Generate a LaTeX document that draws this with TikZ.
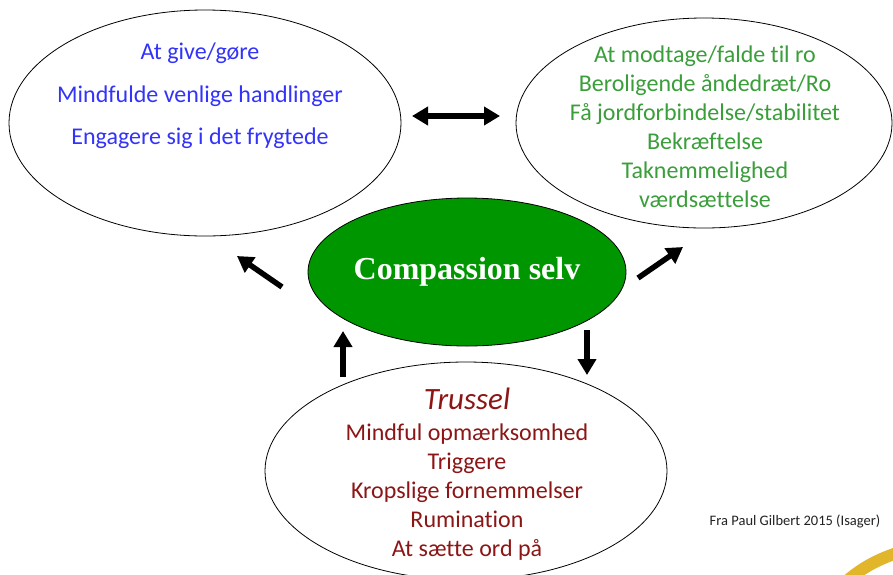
\documentclass[tikz,border=0pt]{standalone}
\usepackage{fontspec}
\setmainfont{Carlito}[RawFeature={-liga}]
\newfontfamily\timesbf{Liberation Serif}
\usetikzlibrary{shapes.geometric,arrows.meta}
\definecolor{blueT}{RGB}{51,51,250}
\definecolor{greenT}{RGB}{58,158,58}
\definecolor{redT}{RGB}{140,22,22}
\definecolor{greenF}{RGB}{0,150,0}
\definecolor{goldA}{RGB}{225,182,42}
\definecolor{footT}{RGB}{34,34,34}
\tikzset{
  oval/.style={ellipse, draw=black, line width=0.8pt, inner sep=0pt},
  fatarrow/.style={line width=5.5pt, -{Triangle[width=18pt,length=16pt]}},
  fatdouble/.style={line width=5.5pt, {Triangle[width=18pt,length=16pt]}-{Triangle[width=18pt,length=16pt]}},
  txt/.style={font=\fontsize{24}{29}\selectfont, align=center, inner sep=0pt},
}
\begin{document}
\begin{tikzpicture}[x=1pt,y=-1pt]
\useasboundingbox[fill=white] (0,0) rectangle (893,574);
% ellipses
\node[oval, minimum width=392pt, minimum height=226pt] (give) at (205,123) {};
\node[oval, minimum width=376pt, minimum height=210pt] (take) at (704,123) {};
\node[oval, fill=greenF, minimum width=318pt, minimum height=148pt] (self) at (467,272) {};
\node[oval, minimum width=402pt, minimum height=218pt] (threat) at (466,471) {};
% texts
\node[txt, text=blueT, font=\fontsize{24}{42.5}\selectfont] (givetxt) at (200,96)
  {At give/gøre\\Mindfulde venlige handlinger\\Engagere sig i det frygtede};
\node[txt, text=greenT] (taketxt) at (705,127)
  {At modtage/falde til ro\\Beroligende åndedræt/Ro\\Få jordforbindelse/stabilitet\\Bekræftelse\\Taknemmelighed\\værdsættelse};
\node[inner sep=0pt, text=white, font=\timesbf\bfseries\fontsize{32}{38}\selectfont] (selftxt) at (467,272) {Compassion selv};
\node[inner sep=0pt, text=redT, font=\itshape\fontsize{31}{36}\selectfont] (trussel) at (467,399) {Trussel};
\node[txt, text=redT] (threattxt) at (467,492)
  {Mindful opmærksomhed\\Triggere\\Kropslige fornemmelser\\Rumination\\At sætte ord på};
\node[inner sep=0pt, text=footT, font=\fontsize{14.5}{17}\selectfont] (foot) at (795,521) {Fra Paul Gilbert 2015 (Isager)};
% arrow end points
\coordinate (dA) at (412,116);
\coordinate (dB) at (500,116);
\coordinate (ulT) at (282,287);
\coordinate (ulH) at (237,256);
\coordinate (urT) at (638,278);
\coordinate (urH) at (683,247);
\coordinate (upT) at (343,377);
\coordinate (upH) at (343,331);
\coordinate (dnT) at (587,330);
\coordinate (dnH) at (587,375);
\draw[fatdouble] (dA) -- (dB);
\draw[fatarrow] (ulT) -- (ulH);
\draw[fatarrow] (urT) -- (urH);
\draw[fatarrow] (upT) -- (upH);
\draw[fatarrow] (dnT) -- (dnH);
% decorative arc
\begin{scope}
\clip (0,0) rectangle (893,574);
\coordinate (arcA) at (848,580);
\coordinate (arcB) at (900,552);
\draw[goldA, line width=12pt] (arcA) .. controls (862,568) and (878,559) .. (arcB);
\end{scope}
\end{tikzpicture}
\end{document}
